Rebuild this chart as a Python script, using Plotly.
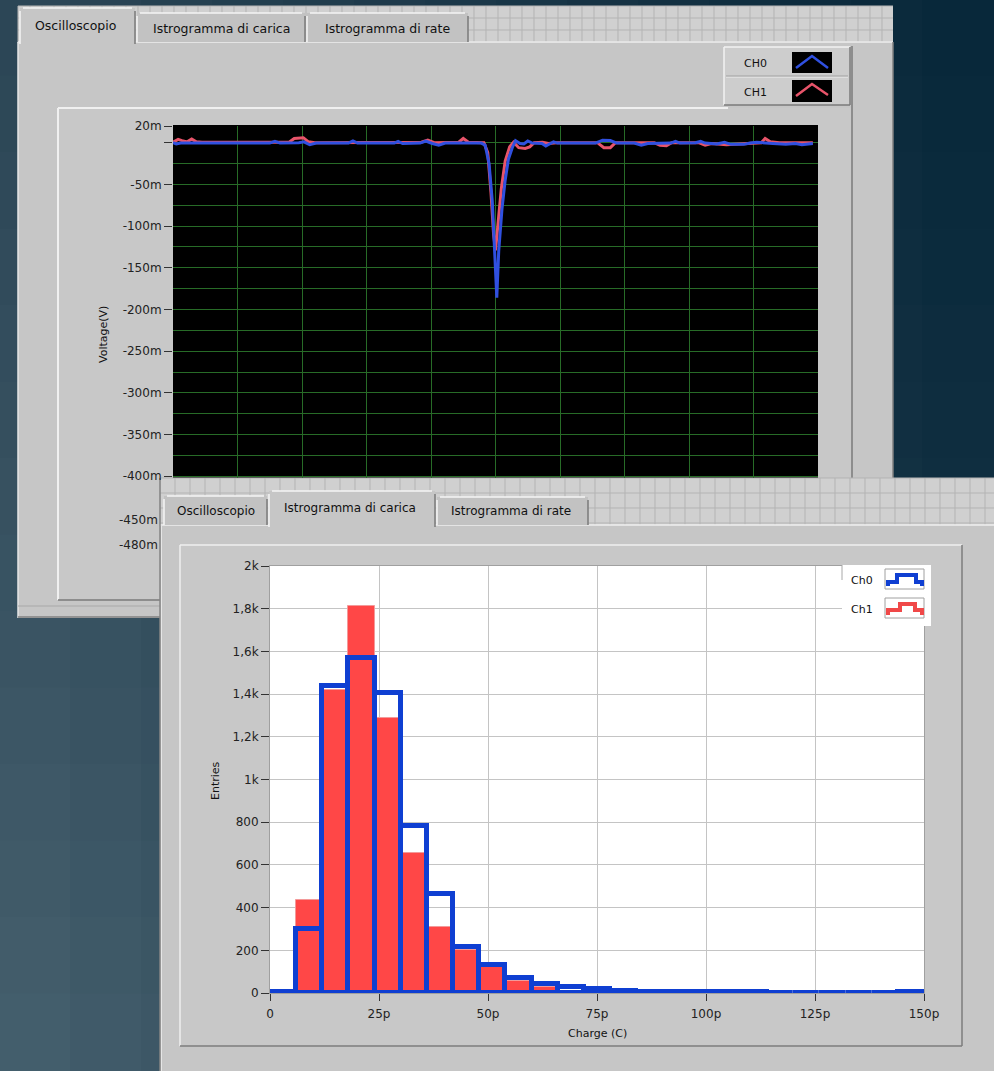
import plotly.graph_objects as go

W, H = 994, 1071

# ---------------- data ----------------
# Oscilloscope: time (0..100 = 10 divisions), voltage in mV
ch0_t = [0, 0.5, 1.2, 15.0, 15.8, 16.6, 19.5, 20.3, 21.2, 22.2, 27.2, 27.9, 28.6, 34.3, 34.9, 35.6,
         38.3, 39.2, 40.2, 41.2, 42.2, 47.8, 48.4, 49.0, 49.5, 49.9, 50.2, 50.5, 51.0, 51.5, 52.0,
         52.6, 53.1, 53.8, 54.4, 55.0, 55.7, 57.2, 57.8, 58.5, 59.0, 59.6, 65.5, 66.6, 67.8, 68.8,
         71.5, 72.6, 73.6, 77.2, 77.9, 78.6, 81.0, 81.8, 82.5, 84.3, 85.5, 86.5, 88.5, 89.5, 90.5,
         93.0, 95.0, 96.5, 97.5, 99.2]
ch0_v = [0, -1.5, -0.5, -0.5, 1.5, -0.5, 0, 1, -2.5, -0.5, -0.5, 2, -0.5, -0.5, 1.5, -1,
         -0.5, 2, -1, -3, -0.5, -0.5, -3, -25, -70, -140, -186, -130, -80, -45, -20,
         -6, 2.5, -1, -1.5, 2, -0.5, -1, -4, -1, 1, -0.5, -0.5, 3, 2.5, -0.5,
         -0.5, -3, -1, -0.5, 1.5, -0.5, 0, 1.5, -0.5, -1.5, 0.5, -2, -2, -0.5, 0.5,
         -1, -2, -1, -2.5, -1]
ch1_t = [0, 0.8, 1.4, 2.2, 2.9, 3.6, 4.5, 18.0, 18.8, 20.2, 21.0, 22.0, 38.5, 39.5, 40.5, 44.3,
         45.0, 45.8, 48.2, 48.8, 49.3, 49.7, 50.0, 50.4, 50.9, 51.5, 52.2, 52.8, 53.6, 54.6, 55.3,
         56.0, 57.3, 58.2, 59.5, 65.8, 66.8, 67.8, 68.6, 74.6, 75.5, 76.5, 77.3, 81.5, 82.5, 83.5,
         85.8, 87.0, 88.5, 91.2, 91.8, 92.6, 94.0, 99.2]
ch1_v = [0.5, 4, 2.5, 1, 4.5, 1, 0.5, 0.5, 5, 6, 1, 0, 0.5, 3, 0, 0.5,
         5, 0.5, 0, -12, -60, -110, -129, -95, -55, -22, -5, 0.5, -6, -7, -5,
         0, 0.5, -1, 0, 0, -6, -6, 0, 0, -3, -3.5, 0, 0, -3, -1,
         -2.5, -2, -1.5, 0, 5, 1, 0, 0]
osc_ticks = [20, 0, -50, -100, -150, -200, -250, -300, -350, -400]
osc_ticktext = ["20m", "", "-50m", "-100m", "-150m", "-200m", "-250m", "-300m", "-350m", "-400m"]
osc_hidden_labels = ["-450m", "-480m"]

# Charge histogram: bin centres (pC), entries
charge_bins = [3, 9, 15, 21, 27, 33, 39, 45, 51, 57, 63, 69, 75, 81, 87, 93, 99, 105, 111,
               117, 123, 129, 135, 141, 147]
ch0_entries = [3, 300, 1437, 1570, 1403, 781, 464, 216, 133, 72, 42, 28, 18, 11, 7, 5, 4, 3, 3,
               2, 2, 2, 2, 2, 3]
ch1_entries = [None, 434, 1420, 1812, 1289, 656, 308, 203, 122, 55, 28, 10, 5, 3, 2, 1, 1, None,
               None, None, None, None, None, None, None]
hist_xticks = [0, 25, 50, 75, 100, 125, 150]
hist_xtext = ["0", "25p", "50p", "75p", "100p", "125p", "150p"]
hist_yticks = [0, 200, 400, 600, 800, 1000, 1200, 1400, 1600, 1800, 2000]
hist_ytext = ["0", "200", "400", "600", "800", "1k", "1,2k", "1,4k", "1,6k", "1,8k", "2k"]

# ---------------- helpers ----------------
shapes = []
annotations = []
FONT = "DejaVu Sans"


def X(x):
    return x / W


def Y(y):
    return 1 - y / H


def rect(x0, y0, x1, y1, fill, line=None, lw=0, layer="below"):
    shapes.append(dict(type="rect", xref="paper", yref="paper", x0=X(x0), x1=X(x1),
                       y0=Y(y1), y1=Y(y0), fillcolor=fill,
                       line=dict(color=line or fill, width=lw), layer=layer))


def seg(x0, y0, x1, y1, color, lw=1, layer="below"):
    shapes.append(dict(type="line", xref="paper", yref="paper", x0=X(x0), x1=X(x1),
                       y0=Y(y0), y1=Y(y1), line=dict(color=color, width=lw), layer=layer))


def poly(pts, color, lw, layer="below", fill=None, close=False):
    d = "M " + " L ".join(f"{X(a):.5f} {Y(b):.5f}" for a, b in pts)
    if close:
        d += " Z"
    shapes.append(dict(type="path", xref="paper", yref="paper", path=d,
                       line=dict(color=color, width=lw), fillcolor=fill or "rgba(0,0,0,0)",
                       layer=layer))


def grid_path(x0, y0, x1, y1, step, color):
    parts = []
    x = x0
    while x <= x1:
        parts.append(f"M {X(x):.5f} {Y(y0):.5f} L {X(x):.5f} {Y(y1):.5f}")
        x += step
    y = y0
    while y <= y1:
        parts.append(f"M {X(x0):.5f} {Y(y):.5f} L {X(x1):.5f} {Y(y):.5f}")
        y += step
    shapes.append(dict(type="path", xref="paper", yref="paper", path=" ".join(parts),
                       line=dict(color=color, width=1), layer="below"))


def text(x, y, s, size=12, xanchor="center", angle=0, color="#111111"):
    annotations.append(dict(x=X(x), y=Y(y), xref="paper", yref="paper", text=s, showarrow=False,
                            xanchor=xanchor, yanchor="middle", textangle=angle,
                            font=dict(family=FONT, size=size, color=color)))


def tab(x0, y0, x1, y1, fill):
    rect(x0, y0, x1, y1, fill)
    seg(x0, y1, x0, y0 + 3, "#f4f4f4", 1.5)
    seg(x0 + 3, y0, x1 - 3, y0, "#f4f4f4", 1.5)
    seg(x1, y0 + 3, x1, y1, "#7a7a7a", 1.5)


def bevel(x0, y0, x1, y1, light="#efefef", dark="#7c7c7c", lw=1.5):
    seg(x0, y0, x1, y0, light, lw)
    seg(x0, y0, x0, y1, light, lw)
    seg(x1, y0, x1, y1, dark, lw)
    seg(x0, y1, x1, y1, dark, lw)


# ---------------- background gradient ----------------
TL, TR, BL, BR = (44, 70, 86), (6, 38, 56), (70, 96, 110), (22, 52, 70)
NC, NR = 14, 14
for i in range(NC):
    for j in range(NR):
        u = (i + 0.5) / NC
        v = (j + 0.5) / NR
        c = [round((1 - u) * (1 - v) * TL[k] + u * (1 - v) * TR[k] + (1 - u) * v * BL[k] + u * v * BR[k])
             for k in range(3)]
        col = f"rgb({c[0]},{c[1]},{c[2]})"
        rect(i * W / NC - 1, j * H / NR - 1, (i + 1) * W / NC + 1, (j + 1) * H / NR + 1, col)

GRAY = "#c6c6c6"
TABGRAY = "#c2c2c2"

# ---------------- window 1 (oscilloscope) ----------------
rect(18, 6, 893, 43, "#d0d0d0")
grid_path(18, 6, 893, 43, 12, "#b4b4b4")
rect(18, 42, 893, 618, GRAY)
seg(18, 42, 893, 42, "#eeeeee", 1.5)
seg(18, 42, 18, 618, "#e6e6e6", 1.5)
seg(893, 42, 893, 618, "#808080", 1.5)
seg(18, 617, 893, 617, "#808080", 1.5)
tab(137, 13, 305, 42, TABGRAY)
tab(307, 13, 468, 42, TABGRAY)
tab(20, 8, 135, 44, GRAY)
text(75, 25, "Oscilloscopio", 12.5)
text(221, 28, "Istrogramma di carica", 12.5)
text(387, 28, "Istrogramma di rate", 12.5)

rect(58, 108, 852, 600, "#c8c8c8")
seg(58, 108, 728, 108, "#f0f0f0", 2)
seg(58, 108, 58, 600, "#f0f0f0", 2)
seg(852, 46, 852, 600, "#7a7a7a", 1.5)
seg(58, 600, 852, 600, "#7a7a7a", 1.5)
seg(18, 606, 893, 606, "#a8a8a8", 1)
rect(173, 125, 818, 478, "#000000")

# legend (window 1)
rect(724, 47, 850, 105, "#cdcdcd", layer="above")
seg(724, 47, 850, 47, "#f2f2f2", 1.5, layer="above")
seg(724, 47, 724, 105, "#f2f2f2", 1.5, layer="above")
seg(850, 47, 850, 105, "#7a7a7a", 1.5, layer="above")
seg(724, 105, 850, 105, "#7a7a7a", 1.5, layer="above")
seg(726, 77, 848, 77, "#efefef", 1, layer="above")
seg(726, 76, 848, 76, "#a0a0a0", 1, layer="above")
rect(792, 52, 832, 73, "#000000", layer="above")
rect(792, 80, 832, 102, "#000000", layer="above")
poly([(796, 68), (812, 56), (828, 68)], "#3050e0", 2.5, layer="above")
poly([(796, 96), (812, 84), (828, 95)], "#e8546a", 2.5, layer="above")
text(755, 63, "CH0", 11)
text(755, 92, "CH1", 11)

# labels of the oscilloscope axis hidden behind the second window
text(103, 335, "Voltage(V)", 11, angle=-90)
text(160, 520, osc_hidden_labels[0], 12, xanchor="right", color="#222222")
text(160, 545, osc_hidden_labels[1], 12, xanchor="right", color="#222222")

# ---------------- window 2 (charge histogram) ----------------
rect(160, 478, 994, 526, "#d0d0d0")
grid_path(160, 478, 994, 526, 15, "#b4b4b4")
rect(160, 525, 994, 1071, GRAY)
seg(160, 525, 994, 525, "#eeeeee", 1.5)
seg(160, 478, 160, 1071, "#858585", 1.5)
seg(161.5, 525, 161.5, 1071, "#e6e6e6", 1)
tab(164, 496, 267, 525, TABGRAY)
tab(437, 497, 588, 525, TABGRAY)
tab(269, 491, 435, 527, GRAY)
text(216, 511, "Oscilloscopio", 12)
text(350, 508, "Istrogramma di carica", 12)
text(511, 511, "Istrogramma di rate", 12)

rect(180, 545, 962, 1046, "#c8c8c8")
bevel(180, 545, 962, 1046)
rect(270, 566, 924, 993, "#ffffff")

# legend (window 2)
rect(842, 565, 931, 626, "#ffffff", layer="above")
seg(842, 565, 842, 580, "#a8a8a8", 1, layer="above")
rect(885, 569, 924, 589, "#ffffff", "#a0a0a0", 1, layer="above")
rect(885, 598, 924, 618, "#ffffff", "#a0a0a0", 1, layer="above")
poly([(888, 586), (888, 582), (897, 582), (897, 575), (916, 575), (916, 582), (922, 582), (922, 586)],
     "#0f3fd2", 4, layer="above")
poly([(888, 615), (888, 610), (900, 610), (900, 604), (915, 604), (915, 610), (922, 610), (922, 615)],
     "#f04848", 4, layer="above")
text(862, 580, "Ch0", 11)
text(862, 609, "Ch1", 11)

text(215, 781, "Entries", 11, angle=-90)
text(597, 1033, "Charge (C)", 11)

# ---------------- traces ----------------
fig = go.Figure()
fig.add_trace(go.Scatter(x=ch1_t, y=ch1_v, mode="lines", name="CH1",
                         line=dict(color="#e8546a", width=3), xaxis="x", yaxis="y"))
fig.add_trace(go.Scatter(x=ch0_t, y=ch0_v, mode="lines", name="CH0",
                         line=dict(color="#3050e0", width=3), xaxis="x", yaxis="y"))
fig.add_trace(go.Bar(x=charge_bins, y=ch1_entries, width=6, name="Ch1",
                     marker=dict(color="#ff4747", line=dict(color="#f39a9a", width=1)),
                     xaxis="x2", yaxis="y2"))
fig.add_trace(go.Bar(x=charge_bins, y=ch0_entries, width=6, name="Ch0",
                     marker=dict(color="rgba(0,0,0,0)", line=dict(color="#0f3fd2", width=5)),
                     xaxis="x2", yaxis="y2"))

GREEN = "#276b27"
tickfont = dict(family=FONT, size=12, color="#222222")
fig.update_layout(
    width=W, height=H, autosize=False,
    margin=dict(l=0, r=0, t=0, b=0, pad=0, autoexpand=False),
    paper_bgcolor="#1c3b4e", plot_bgcolor="rgba(0,0,0,0)",
    showlegend=False, barmode="overlay", bargap=0, hovermode=False,
    shapes=shapes, annotations=annotations,
    xaxis=dict(domain=[X(173), X(818)], range=[0, 100], dtick=10, tick0=0, anchor="y",
               automargin=False,
               showgrid=True, gridcolor=GREEN, gridwidth=1, zeroline=False,
               showticklabels=False, ticks="", showline=False, fixedrange=True),
    yaxis=dict(domain=[Y(478), Y(126)], range=[20 - (478 - 126) * 50 / 41.7, 20], anchor="x",
               automargin=False,
               tickmode="array", tickvals=osc_ticks, ticktext=osc_ticktext,
               ticks="outside", ticklen=8, tickcolor="#333333", tickwidth=1,
               showgrid=True, gridcolor=GREEN, gridwidth=1, zeroline=False,
               minor=dict(tickmode="linear", tick0=0, dtick=25, showgrid=True,
                          gridcolor=GREEN, ticks=""),
               tickfont=tickfont, showline=False),
    xaxis2=dict(domain=[X(270), X(924)], range=[0, 150], anchor="y2", tickmode="array",
                automargin=False,
                tickvals=hist_xticks, ticktext=hist_xtext, ticks="outside", ticklen=7,
                tickcolor="#333333", showgrid=True, gridcolor="#c4c4c4", zeroline=False,
                showline=True, linecolor="#a0a0a0", mirror=True, tickfont=tickfont,
                ticklabelstandoff=3),
    yaxis2=dict(domain=[Y(993), Y(566)], range=[0, 2000], anchor="x2", tickmode="array",
                automargin=False,
                tickvals=hist_yticks, ticktext=hist_ytext, ticks="outside", ticklen=8,
                tickcolor="#333333", showgrid=True, gridcolor="#c4c4c4", zeroline=False,
                showline=True, linecolor="#a0a0a0", mirror=True, tickfont=tickfont),
)

fig.write_html("out.html", config={"displayModeBar": False, "responsive": False},
               post_script="document.body.style.margin='0px';document.body.style.overflow='hidden';")
